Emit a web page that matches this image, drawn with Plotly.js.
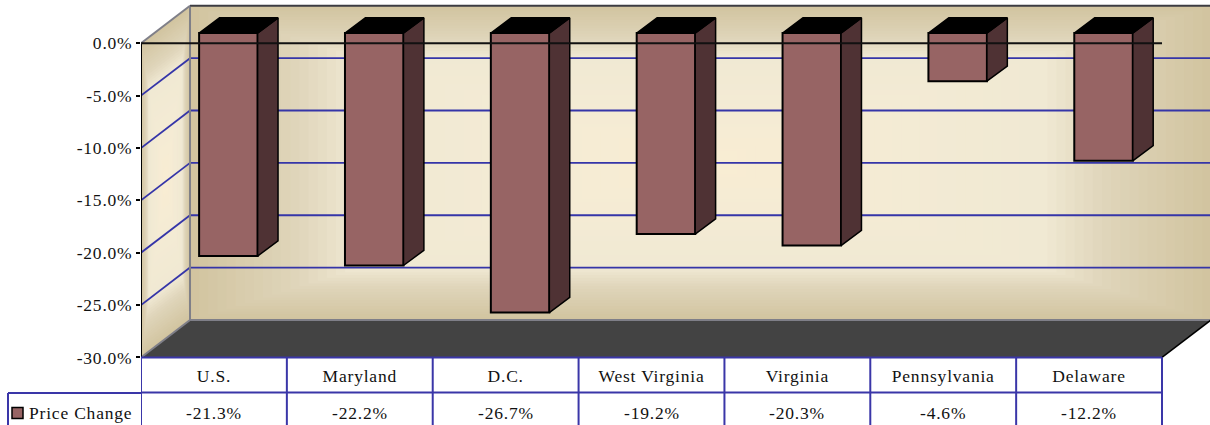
<!DOCTYPE html>
<html>
<head>
<meta charset="utf-8">
<script src="https://cdn.plot.ly/plotly-3.0.1.min.js"></script>
<style>
  html, body { margin: 0; padding: 0; background: #fff; }
  #chart { width: 1210px; height: 425px; }
  svg text { letter-spacing: 0.8px; }
</style>
</head>
<body>
<div id="chart"></div>
<script>
// Price change by region
const categories = ["U.S.", "Maryland", "D.C.", "West Virginia", "Virginia", "Pennsylvania", "Delaware"];
const priceChange = [-21.3, -22.2, -26.7, -19.2, -20.3, -4.6, -12.2];
const tickValues = [0, -5, -10, -15, -20, -25, -30];
const tickLabels = ["0.0%", "-5.0%", "-10.0%", "-15.0%", "-20.0%", "-25.0%", "-30.0%"];
const seriesName = "Price Change";

// Pseudo-3D box, expressed in axis units (x: categories, y: percent)
const wallDx = 0.336, wallDy = 3.58;     // depth of the chart box
const barShiftX = 0.099, barShiftY = 0.98; // bar front face inside the box
const barDx = 0.14, barDy = 1.45;        // depth of each bar
const barWidth = 0.401;
const yMin = -30, tableRow = -33.36, yBottom = -36.455, yTop = 4.136;
const xLeft = -0.5, xRight = 6.5, xEnd = 6.829;

const fontFamily = '"Liberation Serif", "Times New Roman", serif';
const gridColor = "#3535a8", edgeColor = "#7f7f88", tableColor = "#3a36a8";
const faceColor = "#976464", sideColor = "#4f3234", floorColor = "#434343";

// Ramp of the wall shading, from the centre of a wall (0) to its edge (1)
const rampStops = [[0, [249, 237, 211]], [0.35, [244, 235, 212]], [0.68, [240, 233, 211]], [0.8, [223, 213, 186]], [1, [210, 196, 160]]];
function rampColor(d) {
  for (let i = 1; i < rampStops.length; i++) {
    if (d <= rampStops[i][0]) {
      const [d0, c0] = rampStops[i - 1], [d1, c1] = rampStops[i];
      const t = (d - d0) / (d1 - d0);
      return "rgb(" + c0.map((c, j) => Math.round(c + (c1[j] - c) * t)).join(",") + ")";
    }
  }
  return "rgb(210,196,160)";
}

const shapes = [];
const line = (x0, y0, x1, y1, color, width, layer) => shapes.push({
  type: "line", xref: "x", yref: "y", x0, y0, x1, y1, layer: layer || "below",
  line: { color, width }
});

// Back wall and side wall: nested bands give the box-shaped shading
const backLeft = xLeft + wallDx, backRight = xEnd + 0.01;
const steps = 56;
const sidePoint = (s, u) => [xLeft + s * wallDx, s * wallDy + u * yMin];
for (let k = 0; k < steps; k++) {
  const d = 1 - k / steps;
  const cx = (backLeft + backRight) / 2, hx = (backRight - backLeft) / 2;
  const cy = wallDy + yMin / 2, hy = -yMin / 2;
  shapes.push({
    type: "rect", xref: "x", yref: "y", layer: "below", line: { width: 0 },
    x0: cx - hx * d, x1: cx + hx * d, y0: cy - hy * d, y1: cy + hy * d,
    fillcolor: rampColor(d)
  });
  const lo = 0.5 - d / 2, hi = 0.5 + d / 2;
  const pts = [sidePoint(lo, lo), sidePoint(hi, lo), sidePoint(hi, hi), sidePoint(lo, hi)];
  shapes.push({
    type: "path", xref: "x", yref: "y", layer: "below", line: { width: 0 },
    path: "M" + pts.map(p => p.join(" ")).join(" L") + " Z",
    fillcolor: rampColor(d)
  });
}

// Gridlines wrap from the side wall onto the back wall
tickValues.filter(v => v !== 0 && v !== yMin).forEach(v => {
  line(xLeft, v, backLeft, v + wallDy, gridColor, 1.8);
  line(backLeft, v + wallDy, backRight, v + wallDy, gridColor, 1.8);
});

// Floor
shapes.push({
  type: "path", xref: "x", yref: "y", layer: "below", line: { width: 0 },
  path: `M${xLeft} ${yMin} L${backLeft} ${yMin + wallDy} L${xRight + wallDx} ${yMin + wallDy} L${xRight} ${yMin} Z`,
  fillcolor: floorColor
});

// Box edges
line(backLeft, wallDy, backLeft, yMin + wallDy, edgeColor, 2);
line(backLeft, yMin + wallDy, backRight, yMin + wallDy, edgeColor, 2);
line(backLeft, wallDy, backRight, wallDy, "#3c3c42", 2);
line(xLeft, 0, backLeft, wallDy, edgeColor, 2);
line(xLeft, yMin, backLeft, yMin + wallDy, edgeColor, 2);
line(xRight, yMin, xRight + wallDx, yMin + wallDy, "#000", 1.5);
line(xLeft, 0, xLeft, yMin, "#000", 2);

// Zero line passes in front of the bars
line(xLeft, 0, xRight, 0, "#111", 2, "above");

// Data table beneath the chart
line(xLeft, yMin, xRight, yMin, tableColor, 2);
line(xLeft, tableRow, xRight, tableRow, tableColor, 2);
for (let i = 0; i <= categories.length; i++) {
  line(xLeft + i, yMin, xLeft + i, yBottom, tableColor, 2);
}
const plotW = 1069, plotH = 425, marginL = 141;
const paperX = px => (px - marginL) / plotW;
const paperY = py => 1 - py / plotH;
[[8, 393, 141, 393], [8, 393, 8, 425]].forEach(([a, b, c, d]) => shapes.push({
  type: "line", xref: "paper", yref: "paper", layer: "below",
  x0: paperX(a), y0: paperY(b), x1: paperX(c), y1: paperY(d),
  line: { color: tableColor, width: 2 }
}));

// Legend swatch in the table's first cell
shapes.push({
  type: "rect", xref: "paper", yref: "paper", layer: "above",
  x0: paperX(12), x1: paperX(23), y0: paperY(418.5), y1: paperY(407.5),
  fillcolor: faceColor, line: { color: "#000", width: 1.5 }
});

// Values row and legend label
const textFont = { family: fontFamily, size: 17.5, color: "#111" };
const annotations = priceChange.map((v, i) => ({
  x: i, xref: "x", y: paperY(413), yref: "paper", showarrow: false,
  xanchor: "center", yanchor: "middle", text: v.toFixed(1) + "%", font: textFont
}));
annotations.push({
  x: paperX(27), xref: "paper", y: paperY(413), yref: "paper", showarrow: false,
  xanchor: "left", yanchor: "middle", text: seriesName, font: textFont
});

// Side and top faces of every bar, built from the values
const sideX = [], sideY = [], topX = [], topY = [];
priceChange.forEach((v, i) => {
  const l = i + barShiftX - barWidth / 2, r = i + barShiftX + barWidth / 2;
  const t = barShiftY, b = v + barShiftY;
  sideX.push(r, r + barDx, r + barDx, r, r, null);
  sideY.push(t, t + barDy, b + barDy, b, t, null);
  topX.push(l, r, r + barDx, l + barDx, l, null);
  topY.push(t, t, t + barDy, t + barDy, t, null);
});

const traces = [
  {
    type: "bar", name: seriesName,
    x: categories.map((_, i) => i + barShiftX), y: priceChange,
    base: barShiftY, width: barWidth,
    marker: { color: faceColor, line: { color: "#000", width: 2 } },
    hovertemplate: "%{customdata}: %{y:.1f}%<extra></extra>",
    customdata: categories
  },
  {
    type: "scatter", mode: "lines", x: sideX, y: sideY, fill: "toself",
    fillcolor: sideColor, line: { color: "#000", width: 1.5 }, hoverinfo: "skip"
  },
  {
    type: "scatter", mode: "lines", x: topX, y: topY, fill: "toself",
    fillcolor: "#000", line: { color: "#000", width: 1.5 }, hoverinfo: "skip"
  }
];

const layout = {
  width: 1210, height: 425,
  margin: { l: marginL, r: 0, t: 0, b: 0, pad: 0 },
  paper_bgcolor: "#fff", plot_bgcolor: "#fff",
  showlegend: false, dragmode: false,
  font: textFont,
  xaxis: {
    range: [xLeft, xEnd], anchor: "free", position: paperY(358),
    tickmode: "array", tickvals: categories.map((_, i) => i), ticktext: categories,
    ticks: "", showgrid: false, zeroline: false, showline: false,
    ticklabelstandoff: 5, tickangle: 0, tickfont: textFont, fixedrange: true
  },
  yaxis: {
    range: [yBottom, yTop],
    tickmode: "array", tickvals: tickValues, ticktext: tickLabels,
    ticks: "outside", ticklen: 4, tickwidth: 2, tickcolor: "#000",
    showgrid: false, zeroline: false, showline: false,
    tickfont: textFont, fixedrange: true
  },
  shapes, annotations
};

Plotly.newPlot("chart", traces, layout, { displayModeBar: false, staticPlot: true });
</script>
</body>
</html>
